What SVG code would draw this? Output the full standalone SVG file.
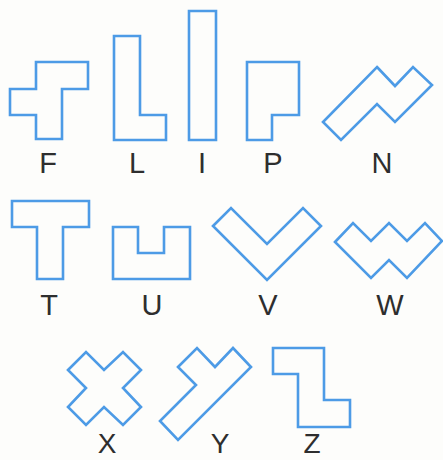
<svg xmlns="http://www.w3.org/2000/svg" width="443" height="460" viewBox="0 0 443 460">
<style>
.p{fill:none;stroke:#4d9be6;stroke-width:2.6;stroke-linejoin:miter}
.t{font-family:"Liberation Sans",Arial,sans-serif;font-size:29px;fill:#2e2e2e;text-anchor:middle}
.b{font-size:28px}
</style>
<rect width="443" height="460" fill="#fdfdfb"/>
<g id="F"><polygon class="p" points="36,62 88,62 88,89 62,89 62,139 36,139 36,115 10,115 10,89 36,89"/><text class="t" x="48" y="173">F</text></g>
<g id="L"><polygon class="p" points="114,36 140,36 140,115 166,115 166,140 114,140"/><text class="t" x="137" y="173">L</text></g>
<g id="I"><polygon class="p" points="189,11 216,11 216,140 189,140"/><text class="t" x="202" y="173">I</text></g>
<g id="P"><polygon class="p" points="247,62 299,62 299,115 272,115 272,140 247,140"/><text class="t" x="273" y="173">P</text></g>
<g id="N"><polygon class="p" points="377,67 395,86 413,67 432,85 395,122 377,104 341,140 323,122"/><text class="t" x="382" y="173">N</text></g>
<g id="T"><polygon class="p" points="12,201 89,201 89,227 63,227 63,279 37,279 37,227 12,227"/><text class="t" x="49" y="315">T</text></g>
<g id="U"><polygon class="p" points="113,227 138,227 138,253 164,253 164,227 190,227 190,279 113,279"/><text class="t" x="152" y="315">U</text></g>
<g id="V"><polygon class="p" points="213,226 231,208 267,244 303,208 321,226 267,280"/><text class="t" x="268" y="315">V</text></g>
<g id="W"><polygon class="p" points="335,242 353,223 371,241 389,223 407,241 425,223 442,241 407,278 389,260 371,278"/><text class="t" x="390" y="315">W</text></g>
<g id="X"><polygon class="p" points="68,370 86,352 104,370 123,352 141,370 123,388 141,407 123,425 104,407 86,425 68,407 86,388"/><text class="t b" x="107" y="453">X</text></g>
<g id="Y"><polygon class="p" points="178,367 197,348 215,367 233,348 251,367 178,440 160,421 196,385"/><text class="t b" x="220" y="453">Y</text></g>
<g id="Z"><polygon class="p" points="273,348 324,348 324,400 350,400 350,427 298,427 298,374 273,374"/><text class="t b" x="312" y="453">Z</text></g>
<g id="connectors"/>
</svg>
